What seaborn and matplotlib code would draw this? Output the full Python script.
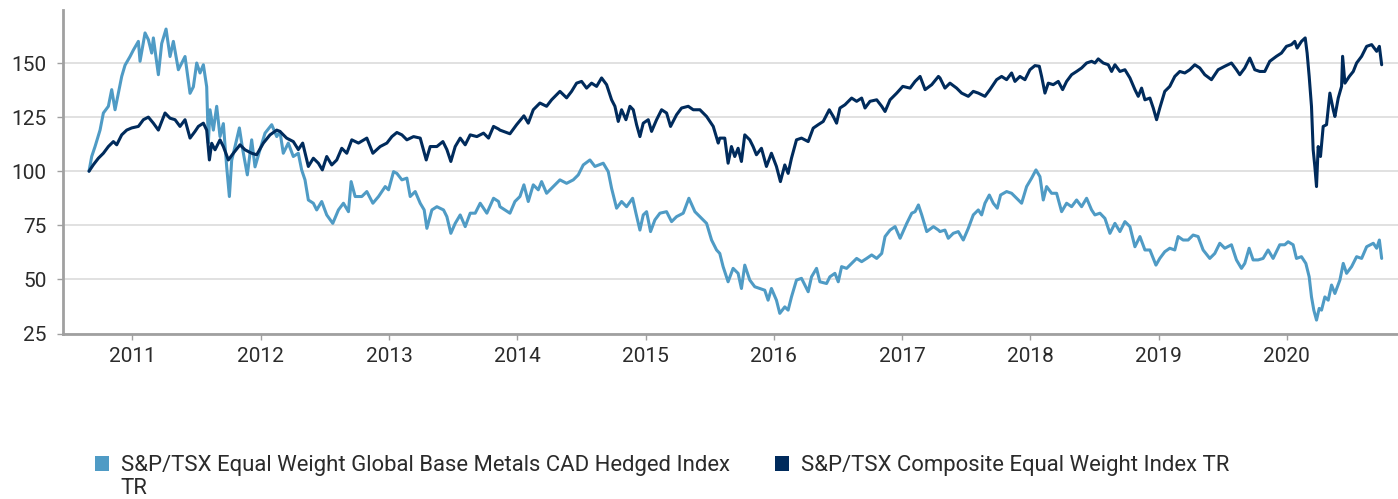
import numpy as np
import pandas as pd
import matplotlib
matplotlib.use("Agg")
import matplotlib.pyplot as plt
import matplotlib.dates as mdates
from matplotlib.patches import Patch
import seaborn as sns

# ---------------- data ----------------
series_names = [
    "S&P/TSX Equal Weight Global Base Metals CAD Hedged Index TR",
    "S&P/TSX Composite Equal Weight Index TR",
]

metals_t = [
    2010.661, 2010.682, 2010.708, 2010.747, 2010.773, 2010.812, 2010.838, 2010.864, 2010.890, 2010.916,
    2010.942, 2010.981, 2011.007, 2011.046, 2011.059, 2011.098, 2011.124, 2011.150, 2011.163, 2011.202,
    2011.228, 2011.262, 2011.293, 2011.319, 2011.358, 2011.410, 2011.449, 2011.475, 2011.501, 2011.527,
    2011.553, 2011.579, 2011.592, 2011.605, 2011.631, 2011.657, 2011.683, 2011.709, 2011.735, 2011.756,
    2011.774, 2011.800, 2011.834, 2011.860, 2011.896, 2011.930, 2011.956, 2011.995, 2012.034, 2012.086,
    2012.125,
    2012.150, 2012.176, 2012.215, 2012.254, 2012.293, 2012.319, 2012.345, 2012.371, 2012.410, 2012.436,
    2012.475, 2012.514, 2012.561, 2012.605, 2012.644, 2012.683, 2012.704, 2012.735, 2012.787, 2012.826,
    2012.873, 2012.917, 2012.969, 2012.995, 2013.034, 2013.060, 2013.099, 2013.138, 2013.164, 2013.203,
    2013.242, 2013.273, 2013.294, 2013.333, 2013.372, 2013.424, 2013.450, 2013.481, 2013.515, 2013.554,
    2013.593, 2013.632, 2013.671, 2013.710, 2013.762, 2013.814, 2013.853,
    2013.864, 2013.942, 2013.981, 2014.020, 2014.051, 2014.085, 2014.124, 2014.163, 2014.189, 2014.228,
    2014.280, 2014.332, 2014.384, 2014.436, 2014.475, 2014.514, 2014.566, 2014.605, 2014.670, 2014.709,
    2014.735, 2014.774, 2014.813, 2014.852, 2014.899, 2014.925, 2014.956, 2014.982, 2015.008, 2015.039,
    2015.073, 2015.112, 2015.164, 2015.203, 2015.242, 2015.294, 2015.338, 2015.385, 2015.424, 2015.476,
    2015.515, 2015.554,
    2015.579, 2015.605, 2015.644, 2015.683, 2015.722, 2015.748, 2015.774, 2015.813, 2015.852, 2015.891,
    2015.930, 2015.956, 2015.982, 2016.021, 2016.047, 2016.086, 2016.112, 2016.138, 2016.177, 2016.216,
    2016.242, 2016.268, 2016.294, 2016.333, 2016.359, 2016.411, 2016.437, 2016.476, 2016.502, 2016.528,
    2016.567, 2016.606, 2016.645, 2016.684, 2016.723, 2016.762, 2016.801, 2016.840, 2016.866, 2016.905,
    2016.944, 2016.983, 2017.035, 2017.074, 2017.100, 2017.126, 2017.152, 2017.191, 2017.243, 2017.282,
    2017.294, 2017.333, 2017.359, 2017.398, 2017.437, 2017.476, 2017.515, 2017.554, 2017.593, 2017.619,
    2017.645, 2017.679, 2017.710, 2017.741, 2017.767, 2017.814, 2017.853, 2017.892, 2017.931, 2017.970,
    2018.009, 2018.043, 2018.074, 2018.100, 2018.126, 2018.165, 2018.204, 2018.243, 2018.282, 2018.321,
    2018.360, 2018.399, 2018.438, 2018.477, 2018.503, 2018.542, 2018.581, 2018.620, 2018.659, 2018.698,
    2018.737, 2018.776, 2018.815, 2018.854, 2018.893, 2018.932, 2018.979,
    2019.009, 2019.048, 2019.087, 2019.126, 2019.152, 2019.191, 2019.230, 2019.269, 2019.308, 2019.347,
    2019.399, 2019.438, 2019.477, 2019.516, 2019.568, 2019.607, 2019.646, 2019.672, 2019.706, 2019.737,
    2019.776, 2019.815, 2019.854, 2019.893, 2019.945, 2019.984, 2020.010, 2020.049, 2020.075, 2020.114,
    2020.148, 2020.174, 2020.192, 2020.210, 2020.231, 2020.252, 2020.270, 2020.296, 2020.322, 2020.348,
    2020.374, 2020.413, 2020.439, 2020.465, 2020.504, 2020.543, 2020.582, 2020.621, 2020.673, 2020.699,
    2020.720, 2020.738,
]
metals_v = [
    100, 106.8, 111.4, 119, 126.9, 130, 137.7, 128.4, 136, 143.8,
    149, 153, 156, 160, 150.8, 163.9, 160.8, 154.6, 161.6, 144.6,
    159, 165.7, 153, 160, 146.9, 153, 136, 139, 150, 145.4,
    149.2, 139, 113, 128.4, 119, 130, 116, 122, 102, 88.3,
    105, 111.4, 120, 110, 98.3, 114.5, 102, 110, 117.6, 121.5,
    116,
    118.4, 108.3, 113, 106.8, 108.3, 100.6, 96, 86.7, 85.2, 82.1,
    86, 79.8, 75.9, 82.1, 85.2, 81.3, 95.2, 88.3, 88.3, 90.6,
    85.2, 88.3, 92.9, 91.4, 99.8, 99, 96, 96.8, 88.3, 90.6,
    85.2, 82.1, 73.6, 82.1, 83.6, 82.1, 79, 71.3, 75.9, 79.8,
    74.4, 80.6, 80.6, 85.2, 80.6, 87.5, 86,
    83.6, 80.6, 86, 88.3, 93.7, 86, 93.7, 91.4, 95.2, 89.8,
    92.9, 96, 94.4, 96, 98.3, 102.9, 105.2, 102.2, 103.7, 99.8,
    92.1, 82.9, 86, 83.6, 87.5, 80.6, 72.8, 79.8, 81.3, 72.1,
    77.5, 80.6, 81.3, 76.7, 79, 80.6, 87.5, 81.3, 79, 75.9,
    68.2, 63.6,
    62, 55.9, 48.9, 55.1, 52.8, 45.8, 56.6, 49.7, 46.6, 45.8,
    45, 40.4, 45.8, 40.4, 34.3, 37.3, 35.8, 41.9, 49.7, 50.5,
    47.4, 44.3, 51.2, 55.1, 48.9, 48.1, 51.2, 52.8, 48.9, 55.9,
    55.1, 57.4, 59.7, 58.2, 59.7, 61.3, 59.7, 62, 69.8, 72.8,
    74.4, 69, 75.9, 80.6, 81.3, 84.4, 79.8, 72.1, 74.4, 72.8,
    72.1, 72.8, 69, 71.3, 72.1, 68.2, 73.6, 79.8, 82.1, 79.8,
    85.2, 89, 85.2, 82.9, 89, 90.6, 89.8, 87.5, 85.2, 92.9,
    96.8, 100.6, 97.5, 86.7, 92.9, 89.8, 89.8, 81.3, 85.2, 83.6,
    86.7, 83.6, 87.5, 82.1, 79.8, 80.6, 78.2, 71.3, 75.9, 72.1,
    76.7, 74.4, 65.1, 69.8, 63.6, 63.6, 56.6,
    59.7, 62.8, 64.4, 63.6, 69.8, 68.2, 68.2, 70.5, 69.8, 63.6,
    59.7, 62, 66.7, 64.4, 66, 59, 55.1, 57.4, 64.4, 59,
    59, 59.7, 63.6, 59.7, 66, 66, 67.4, 66, 59.7, 60.5,
    57.4, 51.2, 41.9, 35.8, 31.2, 36.6, 35.8, 41.9, 40.4, 47.4,
    43.5, 49.7, 57.4, 52.8, 55.9, 60.5, 59.7, 65.1, 66.7, 64.4,
    68.2, 59.7,
]

composite_t = [
    2010.661, 2010.695, 2010.734, 2010.773, 2010.812, 2010.851, 2010.877, 2010.916, 2010.955, 2010.994,
    2011.046, 2011.085, 2011.124, 2011.163, 2011.202, 2011.254, 2011.293, 2011.332, 2011.371, 2011.410,
    2011.449, 2011.488, 2011.514, 2011.553, 2011.579, 2011.600, 2011.618, 2011.644, 2011.683, 2011.709,
    2011.748, 2011.787, 2011.839, 2011.878, 2011.930, 2011.969, 2012.021, 2012.073, 2012.125,
    2012.150, 2012.202, 2012.254, 2012.293, 2012.327, 2012.371, 2012.410, 2012.449, 2012.480, 2012.514,
    2012.553, 2012.592, 2012.631, 2012.670, 2012.709, 2012.761, 2012.826, 2012.873, 2012.930, 2012.982,
    2013.021, 2013.060, 2013.099, 2013.138, 2013.190, 2013.242, 2013.289, 2013.320, 2013.372, 2013.419,
    2013.450, 2013.481, 2013.515, 2013.554, 2013.593, 2013.632, 2013.684, 2013.736, 2013.775, 2013.814,
    2013.853,
    2013.864, 2013.942, 2013.994, 2014.051, 2014.085, 2014.124, 2014.176, 2014.228, 2014.267, 2014.332,
    2014.384, 2014.423, 2014.462, 2014.501, 2014.540, 2014.579, 2014.618, 2014.657, 2014.696, 2014.735,
    2014.761, 2014.787, 2014.813, 2014.847, 2014.878, 2014.904, 2014.930, 2014.956, 2014.982, 2015.021,
    2015.047, 2015.086, 2015.125, 2015.164, 2015.195, 2015.242, 2015.281, 2015.333, 2015.372, 2015.424,
    2015.476, 2015.528, 2015.567,
    2015.579, 2015.618, 2015.644, 2015.670, 2015.696, 2015.722, 2015.748, 2015.774, 2015.813, 2015.839,
    2015.865, 2015.904, 2015.943, 2015.982, 2016.021, 2016.052, 2016.086, 2016.112, 2016.138, 2016.177,
    2016.216, 2016.268, 2016.307, 2016.346, 2016.385, 2016.432, 2016.463, 2016.489, 2016.515, 2016.554,
    2016.606, 2016.645, 2016.684, 2016.710, 2016.749, 2016.801, 2016.840, 2016.866, 2016.905, 2016.957,
    2017.004, 2017.061, 2017.100, 2017.139, 2017.178, 2017.230, 2017.282,
    2017.294, 2017.333, 2017.372, 2017.424, 2017.463, 2017.515, 2017.554, 2017.593, 2017.645, 2017.684,
    2017.736, 2017.775, 2017.814, 2017.853, 2017.879, 2017.918, 2017.957, 2017.996, 2018.035, 2018.069,
    2018.087, 2018.113, 2018.139, 2018.178, 2018.217, 2018.251, 2018.282, 2018.321, 2018.360, 2018.399,
    2018.438, 2018.477, 2018.503, 2018.529, 2018.568, 2018.607, 2018.633, 2018.659, 2018.698, 2018.737,
    2018.776, 2018.815, 2018.841, 2018.867, 2018.893, 2018.932, 2018.958, 2018.984,
    2019.009, 2019.048, 2019.087, 2019.126, 2019.165, 2019.204, 2019.243, 2019.282, 2019.321, 2019.360,
    2019.412, 2019.464, 2019.516, 2019.568, 2019.607, 2019.633, 2019.672, 2019.711, 2019.750, 2019.789,
    2019.828, 2019.867, 2019.919, 2019.958, 2019.997, 2020.036, 2020.062, 2020.080, 2020.114, 2020.143,
    2020.158, 2020.174, 2020.192, 2020.205, 2020.218, 2020.231, 2020.244, 2020.262, 2020.283, 2020.309,
    2020.335, 2020.361, 2020.374, 2020.400, 2020.426, 2020.434, 2020.452, 2020.486, 2020.517, 2020.543,
    2020.582, 2020.621, 2020.660, 2020.699, 2020.720, 2020.738,
]
composite_v = [
    100, 103, 106, 108.3, 111.4, 113.7, 112.2, 116.8, 119, 120,
    120.7, 123.8, 125, 122.2, 119, 126.9, 124.5, 123.8, 120.7, 123.8,
    115.3, 118.4, 120.7, 122.2, 119, 105.2, 112.9, 109.9, 114.5, 111.4,
    105.2, 108.3, 112.2, 109.9, 108.3, 107.6, 113, 116.8, 119,
    118.4, 115.3, 113.7, 110, 113, 102.2, 106, 103.7, 100.6, 106.8,
    102.9, 105.2, 110.6, 108.3, 114.5, 113, 115.3, 108.3, 111.4, 113,
    116, 117.9, 116.8, 114.5, 116, 115.3, 105.2, 111.4, 111.4, 113.7,
    110, 104.5, 111.4, 115.3, 112.2, 116.8, 116, 117.6, 115.3, 120.7,
    119.5,
    119, 117.3, 121.5, 125.6, 122.2, 128.4, 131.5, 130, 133, 136.9,
    133.9, 136.9, 140.7, 141.5, 138.4, 140.7, 139.2, 143.1, 140, 133,
    130, 123, 128.4, 123.8, 130, 128.4, 121.5, 116, 122.2, 123.8,
    118.4, 123.8, 128.4, 126.9, 120.7, 126.1, 129.2, 130, 128.4, 128.4,
    125.3, 120.7, 113,
    115.3, 115.3, 103.7, 111.4, 106.8, 110.6, 104.5, 116.8, 114.5, 111.4,
    107.6, 110.6, 102.2, 108.3, 102.2, 95.2, 102.9, 99, 106, 114.5,
    115.3, 113.7, 119.9, 121.5, 123, 128.4, 125.3, 122.2, 129.2, 130.7,
    133.8, 132.3, 133.8, 129.2, 132.3, 133, 130, 127.6, 133, 136.1,
    139.2, 138.4, 141.5, 143.8, 137.7, 140, 143.8,
    143.1, 138.4, 140.7, 138.4, 136.1, 134.6, 136.9, 136.1, 134.6, 137.7,
    142.3, 143.8, 142.3, 145.4, 141.5, 143.8, 142.3, 146.9, 148.8, 148.5,
    143.8, 136.1, 140.7, 140, 141.5, 137.7, 141.5, 144.6, 146.1, 147.7,
    150, 150.8, 150, 151.9, 150, 149.2, 146.1, 149.2, 146.1, 146.9,
    143.1, 137.7, 134.6, 138.4, 133, 133.8, 129.2, 123.8,
    129.2, 136.9, 139.2, 143.8, 146.1, 145.4, 146.9, 149.2, 147.7, 144.6,
    142.3, 146.9, 148.5, 150, 146.9, 144.6, 147.7, 152.3, 146.9, 146.1,
    146.1, 150.8, 153.1, 154.6, 157.7, 158.5, 160, 156.9, 160, 161.6,
    154.6, 143.8, 129.9, 109.9, 102.2, 92.9, 111.4, 106.8, 120.7, 121.5,
    136.1, 128.4, 125.3, 133.8, 139.2, 153.1, 140.7, 143.8, 146.1, 150,
    153.1, 157.7, 158.5, 155.4, 157.7, 149.2,
]

year_ticks = list(range(2011, 2021))
y_ticks = [25, 50, 75, 100, 125, 150]
colors = ["#4f9bc5", "#002b5c"]


def decimal_year_to_ts(y):
    yr = int(np.floor(y))
    start = pd.Timestamp(year=yr, month=1, day=1)
    end = pd.Timestamp(year=yr + 1, month=1, day=1)
    return start + (end - start) * (y - yr)


frames = []
for name, tt, vv in [(series_names[0], metals_t, metals_v),
                     (series_names[1], composite_t, composite_v)]:
    frames.append(pd.DataFrame({
        "date": [decimal_year_to_ts(t) for t in tt],
        "value": vv,
        "series": name,
    }))
df = pd.concat(frames, ignore_index=True)

# ---------------- styling ----------------
sns.set_theme(style="white")
plt.rcParams["font.family"] = ["Roboto", "DejaVu Sans"]
text_color = "#2b2b2b"

W, H = 1398, 499
fig = plt.figure(figsize=(W / 100, H / 100), dpi=100)
ax = fig.add_axes([63 / W, 1 - 333.5 / H, (W - 63) / W, (333.5 - 10) / H])

sns.lineplot(data=df, x="date", y="value", hue="series",
             palette=dict(zip(series_names, colors)),
             hue_order=series_names, linewidth=2.2, ax=ax, legend=False,
             estimator=None, sort=False)

ax.set_xlim(decimal_year_to_ts(2010.458), decimal_year_to_ts(2020.865))
ax.set_ylim(25, 174.5)
ax.set_yticks(y_ticks)
ax.set_xticks([pd.Timestamp(year=y, month=1, day=1) for y in year_ticks])
ax.xaxis.set_major_formatter(mdates.DateFormatter("%Y"))
ax.set_xlabel("")
ax.set_ylabel("")

ax.yaxis.grid(True, color="#d9d9d9", linewidth=1.1)
ax.xaxis.grid(False)
ax.set_axisbelow(True)
for s in ["top", "right"]:
    ax.spines[s].set_visible(False)
for s in ["left", "bottom"]:
    ax.spines[s].set_color("#a0a0a0")
    ax.spines[s].set_linewidth(2.0)

ax.tick_params(axis="both", which="major", length=4, width=1.0, color="#a0a0a0",
               labelsize=15, labelcolor=text_color)
ax.tick_params(axis="y", pad=8)
ax.tick_params(axis="x", pad=6)
ax.tick_params(left=True, bottom=True)

# ---------------- legend ----------------
leg_fs = 15.9
h1 = [Patch(facecolor=colors[0], edgecolor="none")]
h2 = [Patch(facecolor=colors[1], edgecolor="none")]
ycen = 1 - 466 / H
leg1 = fig.legend(h1, ["S&P/TSX Equal Weight Global Base Metals CAD Hedged Index"],
                  loc="center left", bbox_to_anchor=(95 / W, ycen), frameon=False,
                  fontsize=leg_fs, handlelength=0.65, handleheight=0.65,
                  handletextpad=0.55, borderpad=0, borderaxespad=0,
                  labelcolor=text_color)
leg2 = fig.legend(h2, ["S&P/TSX Composite Equal Weight Index TR"],
                  loc="center left", bbox_to_anchor=(775 / W, ycen), frameon=False,
                  fontsize=leg_fs, handlelength=0.65, handleheight=0.65,
                  handletextpad=0.55, borderpad=0, borderaxespad=0,
                  labelcolor=text_color)
fig.text(120 / W, 1 - 489 / H, "TR", fontsize=leg_fs, color=text_color,
         ha="left", va="center")

fig.savefig("out.png", dpi=100)
